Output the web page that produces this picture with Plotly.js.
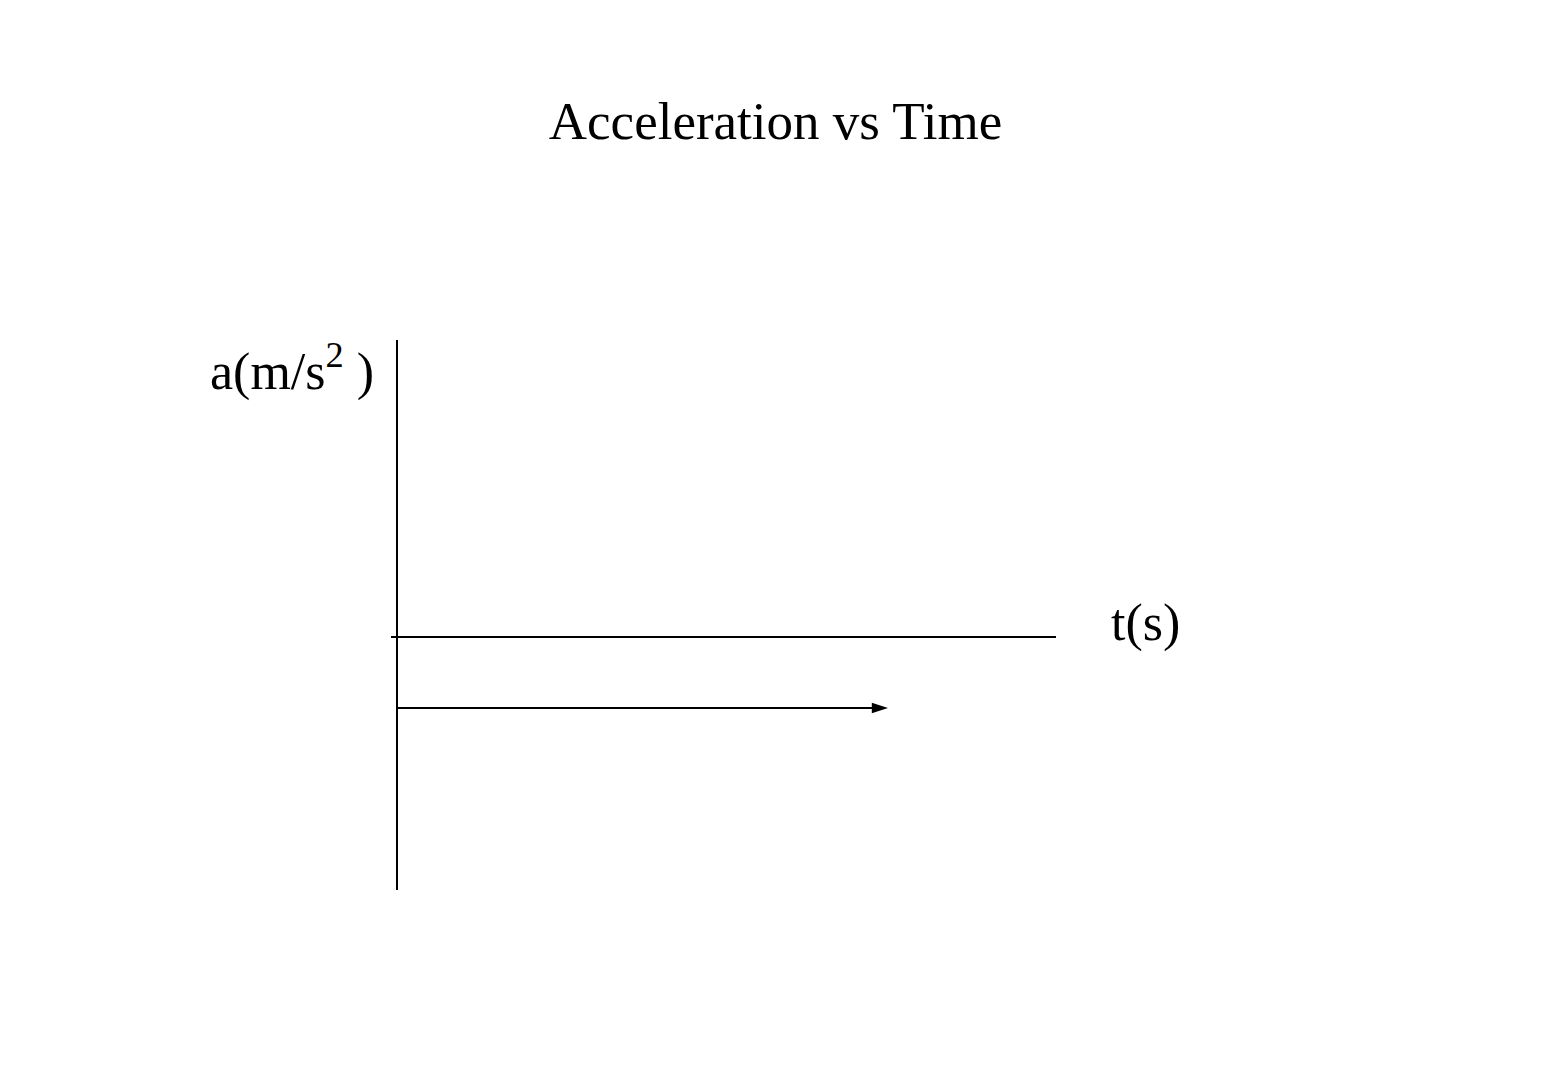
<!DOCTYPE html>
<html>
<head>
<meta charset="utf-8">
<script src="https://cdn.plot.ly/plotly-3.0.1.min.js"></script>
<style>html,body{margin:0;padding:0;background:#fff;}#chart{width:1562px;height:1089px;}</style>
</head>
<body>
<div id="chart"></div>
<script>
// Data
const timeValues = [0, 8];          // t (s): start and end of the acceleration line
const accelValues = [-1, -1];       // a (m/s^2): constant acceleration
const xRange = [-0.0978, 10.737];   // time axis extent
const yRange = [-3.563, 4.183];     // acceleration axis extent
const titleText = "Acceleration vs Time";
const xLabel = "t(s)";
const yLabel = "a(m/s<sup>2</sup> )";

const serif = "Liberation Serif, Times New Roman, serif";

const trace = {
  x: timeValues,
  y: accelValues,
  mode: "lines+markers",
  type: "scatter",
  line: {color: "#000", width: 2},
  marker: {
    symbol: ["circle", "arrow"],
    size: [0, 17],
    angleref: "previous",
    color: "#000",
    opacity: 1,
    line: {width: 0}
  },
  hoverinfo: "skip",
  showlegend: false
};

const layout = {
  width: 1562,
  height: 1089,
  paper_bgcolor: "#fff",
  plot_bgcolor: "#fff",
  margin: {l: 391, r: 506, t: 340, b: 199},
  title: {
    text: titleText,
    font: {family: serif, size: 53, color: "#000"},
    x: 775.5/1562, xref: "container", xanchor: "center",
    y: 1 - 120/1089, yref: "container", yanchor: "middle"
  },
  xaxis: {
    range: xRange,
    showgrid: false, showticklabels: false, ticks: "",
    showline: false,
    zeroline: true, zerolinecolor: "#000", zerolinewidth: 2,
    fixedrange: true
  },
  yaxis: {
    range: yRange,
    showgrid: false, showticklabels: false, ticks: "",
    showline: false,
    zeroline: true, zerolinecolor: "#000", zerolinewidth: 2,
    fixedrange: true
  },
  annotations: [
    {
      text: yLabel, xref: "paper", yref: "paper",
      x: -0.0226, y: 0.95, xanchor: "right", yanchor: "middle",
      showarrow: false,
      font: {family: serif, size: 52, color: "#000"}
    },
    {
      text: xLabel, xref: "paper", yref: "y",
      x: 1.08, y: 0.2, xanchor: "left", yanchor: "middle",
      showarrow: false,
      font: {family: serif, size: 52, color: "#000"}
    }
  ]
};

Plotly.newPlot("chart", [trace], layout, {displayModeBar: false, staticPlot: true});
</script>
</body>
</html>
